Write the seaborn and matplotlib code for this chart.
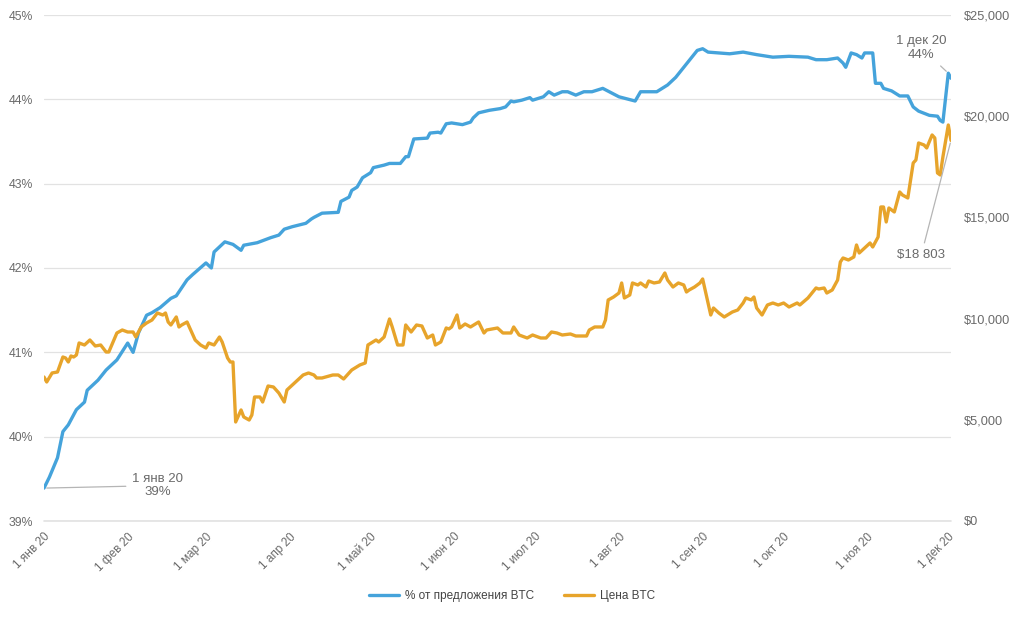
import pandas as pd
import matplotlib
matplotlib.use("Agg")
import matplotlib.pyplot as plt
import matplotlib.dates as mdates
from matplotlib.ticker import FuncFormatter, MultipleLocator
import seaborn as sns

# Доля предложения BTC (дни от 1 янв 2020, значение в %)
share_days = [0, 2, 5, 7, 9, 10, 12, 15, 16, 20, 23, 27, 31, 33, 35, 38, 40, 43, 47, 49,
              53, 55, 60, 62, 63, 67, 70, 73, 74, 79, 84, 87, 89, 92, 97, 99, 100, 103, 109, 110,
              113, 114, 116, 118, 121, 122, 126, 128, 132, 134, 135, 137, 142, 143, 146, 147, 149, 151, 155, 158,
              159, 161, 165, 169, 171, 173, 174, 177, 180, 181, 185, 187, 189, 192, 194, 197, 200, 203, 207, 210,
              213, 219, 221, 223, 227, 229, 231, 234, 237, 242, 244, 246, 250, 254, 259, 264, 270, 276, 283, 286,
              290, 294, 296, 297, 299, 301, 303, 304, 307, 308, 310, 311, 314, 317, 320, 322, 324, 328, 331, 332,
              333, 335, 336]
share_pct = [39.39, 39.52, 39.75, 40.06, 40.14, 40.20, 40.32, 40.41, 40.55, 40.67, 40.79, 40.91, 41.11, 41.00, 41.23, 41.44, 41.47, 41.53, 41.64, 41.67,
             41.86, 41.92, 42.06, 42.00, 42.19, 42.31, 42.28, 42.21, 42.27, 42.30, 42.36, 42.39, 42.46, 42.49, 42.53, 42.58, 42.60, 42.65, 42.66, 42.79,
             42.84, 42.92, 42.96, 43.07, 43.13, 43.19, 43.22, 43.24, 43.24, 43.32, 43.32, 43.53, 43.54, 43.60, 43.61, 43.60, 43.71, 43.72, 43.70, 43.73,
             43.78, 43.84, 43.87, 43.89, 43.91, 43.98, 43.97, 43.99, 44.02, 43.99, 44.03, 44.09, 44.05, 44.09, 44.09, 44.05, 44.09, 44.09, 44.13, 44.08,
             44.03, 43.98, 44.09, 44.09, 44.09, 44.13, 44.17, 44.26, 44.38, 44.58, 44.60, 44.56, 44.55, 44.54, 44.56, 44.53, 44.50, 44.51, 44.50, 44.47,
             44.47, 44.49, 44.43, 44.38, 44.55, 44.53, 44.49, 44.55, 44.55, 44.19, 44.19, 44.13, 44.10, 44.04, 44.04, 43.91, 43.86, 43.81, 43.80, 43.75,
             43.73, 44.31, 44.25]

# Цена BTC (дни от 1 янв 2020, $)
price_days = [0, 1, 3, 5, 7, 8, 9, 10, 11, 12, 13, 15, 17, 19, 21, 23, 24, 27, 29, 31,
              33, 34, 36, 38, 40, 42, 44, 45, 46, 47, 49, 50, 51, 53, 56, 58, 60, 61, 63, 65,
              66, 68, 69, 70, 71, 73, 74, 76, 77, 78, 80, 81, 83, 85, 87, 89, 90, 96, 98, 100,
              101, 103, 107, 109, 111, 114, 117, 119, 120, 123, 124, 126, 128, 129, 131, 133, 134, 136, 138, 140,
              142, 144, 145, 147, 149, 150, 151, 153, 154, 156, 158, 161, 163, 164, 168, 170, 173, 174, 176, 179,
              181, 184, 186, 188, 190, 192, 195, 197, 201, 202, 204, 207, 208, 209, 211, 213, 214, 215, 217, 218,
              220, 221, 223, 224, 226, 228, 230, 231, 233, 235, 237, 238, 239, 241, 243, 244, 246, 247, 248, 250,
              252, 255, 257, 259, 260, 262, 263, 264, 266, 268, 270, 272, 274, 276, 279, 280, 283, 286, 287, 289,
              290, 292, 294, 295, 296, 298, 300, 301, 302, 304, 306, 307, 309, 310, 311, 312, 313, 315, 317, 318,
              320, 322, 323, 324, 326, 327, 329, 330, 331, 332, 333, 335, 336]
price_usd = [7115, 6868, 7313, 7362, 8103, 8054, 7856, 8153, 8103, 8202, 8795, 8696, 8943, 8647, 8696, 8350, 8350, 9289, 9437, 9338,
             9338, 9091, 9586, 9783, 9931, 10277, 10178, 10277, 9832, 9684, 10080, 9586, 9684, 9832, 8943, 8696, 8548, 8795, 8696, 9091,
             8844, 8054, 7856, 7856, 4892, 5485, 5139, 4990, 5237, 6127, 6127, 5880, 6670, 6621, 6324, 5880, 6473, 7214, 7313, 7214,
             7066, 7066, 7214, 7214, 7016, 7461, 7708, 7807, 8696, 8943, 8844, 9091, 9981, 9586, 8696, 8696, 9684, 9338, 9684, 9635,
             9042, 9190, 8696, 8844, 9536, 9487, 9586, 10178, 9536, 9734, 9586, 9832, 9289, 9437, 9536, 9289, 9289, 9586, 9190, 9042,
             9190, 9042, 9042, 9338, 9289, 9190, 9240, 9141, 9141, 9437, 9586, 9586, 9931, 10920, 11068, 11265, 11760, 11018, 11167, 11760,
             11661, 11760, 11562, 11858, 11760, 11809, 12254, 11908, 11562, 11760, 11661, 11315, 11414, 11562, 11760, 11957, 10771, 10178, 10524, 10277,
             10080, 10327, 10426, 10771, 11018, 10920, 11068, 10524, 10178, 10673, 10771, 10673, 10771, 10574, 10771, 10673, 11018, 11513, 11463, 11513,
             11265, 11414, 11908, 12797, 12995, 12896, 13044, 13637, 13242, 13489, 13736, 13538, 14032, 15515, 15515, 14774, 15465, 15268, 16256, 16108,
             15959, 17689, 17837, 18677, 18578, 18430, 19072, 18924, 17195, 17096, 17985, 19566, 18803]

month_labels = ["1 янв 20", "1 фев 20", "1 мар 20", "1 апр 20", "1 май 20", "1 июн 20",
                "1 июл 20", "1 авг 20", "1 сен 20", "1 окт 20", "1 ноя 20", "1 дек 20"]

start = pd.Timestamp("2020-01-01")
share_df = pd.DataFrame({"date": start + pd.to_timedelta(share_days, unit="D"), "share": share_pct})
price_df = pd.DataFrame({"date": start + pd.to_timedelta(price_days, unit="D"), "price": price_usd})

BLUE = "#45a3db"
ORANGE = "#e7a42b"
GREY = "#6a6a6a"

sns.set_theme(style="white")
plt.rcParams["font.family"] = ["Liberation Sans", "DejaVu Sans"]

fig = plt.figure(figsize=(10.24, 6.17), dpi=100)
ax = fig.add_axes([44 / 1024, 1 - 521 / 617, 907 / 1024, 506 / 617])
ax2 = ax.twinx()

sns.lineplot(data=share_df, x="date", y="share", color=BLUE, linewidth=2.4,
             ax=ax, label="% от предложения BTC", legend=False)
sns.lineplot(data=price_df, x="date", y="price", color=ORANGE, linewidth=2.4,
             ax=ax2, label="Цена BTC", legend=False)

# Оси
ax.set_xlim(start, start + pd.Timedelta(days=336))
ax.set_ylim(39, 45)
ax2.set_ylim(0, 25000)
ax.yaxis.set_major_locator(MultipleLocator(1))
ax2.yaxis.set_major_locator(MultipleLocator(5000))
ax.yaxis.set_major_formatter(FuncFormatter(lambda v, p: f"{v:.0f}%"))
ax2.yaxis.set_major_formatter(FuncFormatter(lambda v, p: f"${v:,.0f}"))

ticks = pd.date_range("2020-01-01", "2020-12-01", freq="MS")
ax.set_xticks(ticks)
ax.set_xticklabels(month_labels, rotation=45, ha="right", rotation_mode="anchor")

ax.grid(axis="y", color="#e2e2e2", linewidth=0.9)
ax.grid(axis="x", visible=False)
ax.axhline(39, color="#e2e2e2", linewidth=1.2, clip_on=False, zorder=0)
ax2.grid(False)
for a in (ax, ax2):
    for s in a.spines.values():
        s.set_visible(False)
    a.set_xlabel("")
    a.set_ylabel("")

ax.tick_params(axis="x", length=3, color="#e2e2e2", pad=4, labelsize=8.5, labelcolor=GREY)
ax.tick_params(axis="y", length=0, pad=8, labelsize=8.8, labelcolor=GREY)
ax2.tick_params(axis="y", length=0, pad=9, labelsize=9.2, labelcolor=GREY)

# Подписи точек
line_kw = dict(arrowstyle="-", color="#b5b5b5", linewidth=0.9)
d = mdates.date2num
ax.annotate("1 янв 20\n39%", xy=(d(start), share_pct[0]),
            xytext=(d(start + pd.Timedelta(days=42)), 39.42),
            ha="center", va="center", fontsize=9.5, color=GREY, arrowprops=line_kw)
ax.annotate("1 дек 20\n44%", xy=(d(start + pd.Timedelta(days=335)), share_pct[-2]),
            xytext=(d(start + pd.Timedelta(days=325)), 44.61),
            ha="center", va="center", fontsize=9.5, color=GREY, arrowprops=line_kw)
ax2.annotate("$18 803", xy=(d(start + pd.Timedelta(days=336)), price_usd[-1]),
             xytext=(d(start + pd.Timedelta(days=325)), 13150),
             ha="center", va="center", fontsize=9.5, color=GREY, arrowprops=line_kw)

# Легенда
h1, l1 = ax.get_legend_handles_labels()
h2, l2 = ax2.get_legend_handles_labels()
fig.legend(h1 + h2, l1 + l2, loc="center", bbox_to_anchor=(0.5, 1 - 596 / 617),
           ncol=2, frameon=False, fontsize=8.5, labelcolor="#444444",
           handlelength=2.6, handletextpad=0.5, columnspacing=2.5)

fig.savefig("out.png", dpi=100, facecolor="white")
